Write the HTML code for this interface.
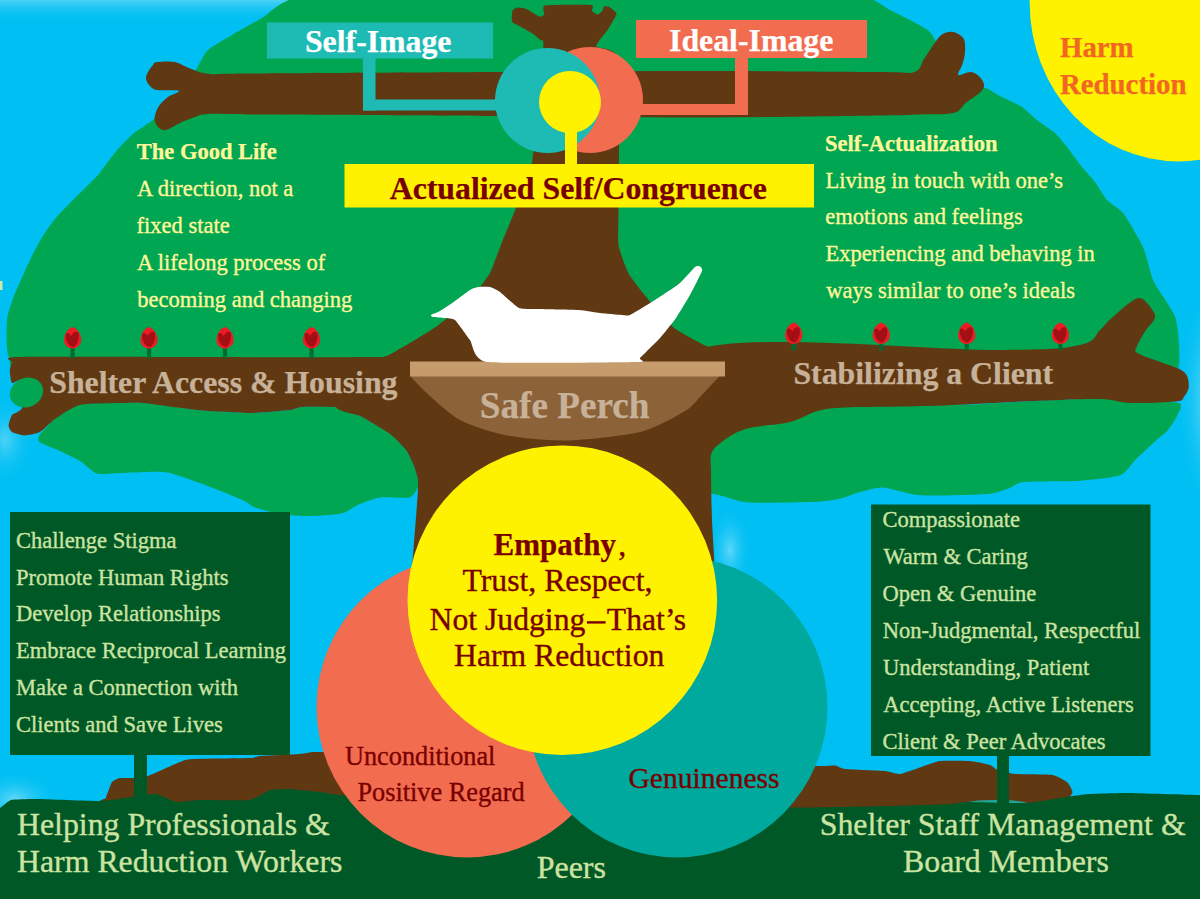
<!DOCTYPE html>
<html><head><meta charset="utf-8"><style>
html,body{margin:0;padding:0;width:1200px;height:899px;overflow:hidden;background:#00BFF3;}
svg{display:block;}
text{font-family:"Liberation Serif",serif;}
</style></head><body>
<svg width="1200" height="899" viewBox="0 0 1200 899">
<rect x="0" y="0" width="1200" height="899" fill="#00BFF3"/>
<radialGradient id="glow" cx="0.5" cy="0.5" r="0.5"><stop offset="0" stop-color="#bff0ff" stop-opacity="0.9"/><stop offset="1" stop-color="#00BFF3" stop-opacity="0"/></radialGradient>
<ellipse cx="1215" cy="400" rx="40" ry="120" fill="url(#glow)" opacity="0.8"/>
<linearGradient id="tophaze" x1="0" y1="0" x2="0" y2="1"><stop offset="0" stop-color="#7fdcfa" stop-opacity="0.6"/><stop offset="1" stop-color="#00BFF3" stop-opacity="0"/></linearGradient>
<rect x="0" y="0" width="600" height="22" fill="url(#tophaze)"/>
<ellipse cx="730" cy="550" rx="22" ry="45" fill="url(#glow)" opacity="0.55"/>
<ellipse cx="5" cy="440" rx="30" ry="45" fill="url(#glow)" opacity="0.45"/>
<ellipse cx="15" cy="800" rx="45" ry="30" fill="url(#glow)" opacity="0.6"/>
<path d="M300.0,-3.0 C318.8,-5.1 420.0,-3.0 450.0,-3.0 C480.0,-3.0 570.0,-3.0 600.0,-3.0 C630.0,-3.0 726.0,-3.0 750.0,-3.0 C774.0,-3.0 827.9,-3.2 840.0,-3.0 C852.1,-2.8 866.0,-2.3 871.0,-1.0 C876.0,0.3 885.9,7.8 890.0,10.0 C894.1,12.2 908.1,18.9 912.0,21.0 C915.9,23.1 926.6,28.9 929.0,31.0 C931.4,33.1 935.4,39.9 936.0,42.0 C936.6,44.1 936.2,50.2 935.0,52.0 C933.8,53.8 923.5,57.2 924.0,60.0 C924.5,62.8 934.0,77.2 940.0,80.0 C946.0,82.8 979.0,87.0 984.0,88.0 C989.0,89.0 988.4,89.2 990.0,90.0 C991.6,90.8 996.8,94.3 1000.0,96.0 C1003.2,97.7 1018.3,104.6 1022.0,107.0 C1025.7,109.4 1033.7,117.4 1037.0,120.0 C1040.3,122.6 1052.0,130.3 1055.0,133.0 C1058.0,135.7 1064.3,143.6 1067.0,147.0 C1069.7,150.4 1079.2,163.5 1082.0,167.0 C1084.8,170.5 1092.5,178.7 1095.0,182.0 C1097.5,185.3 1104.2,196.9 1107.0,200.0 C1109.8,203.1 1119.4,208.3 1123.0,213.0 C1126.6,217.7 1140.0,240.3 1143.0,247.0 C1146.0,253.7 1150.8,274.7 1153.0,280.0 C1155.2,285.3 1163.2,296.4 1165.4,300.0 C1167.6,303.6 1173.5,312.7 1174.8,315.8 C1176.1,318.9 1177.5,327.5 1178.0,331.4 C1178.5,335.3 1179.4,351.1 1179.4,354.8 C1179.4,358.5 1179.9,365.0 1178.0,368.0 C1176.1,371.0 1207.8,381.8 1160.0,385.0 C1112.2,388.2 776.0,398.5 700.0,400.0 C624.0,401.5 466.0,402.5 400.0,400.0 C334.0,397.5 79.1,379.3 40.0,375.0 C0.9,370.7 12.3,362.5 9.0,357.0 C5.7,351.5 6.5,326.1 7.0,320.0 C7.5,313.9 11.7,302.0 14.0,296.0 C16.3,290.0 27.4,265.5 30.0,260.0 C32.6,254.5 37.8,244.6 40.0,240.8 C42.2,237.0 49.9,225.4 52.5,222.0 C55.1,218.6 63.5,209.7 66.5,206.6 C69.5,203.5 78.9,194.1 82.0,191.0 C85.1,187.9 95.1,178.2 97.6,175.4 C100.1,172.6 105.0,165.6 107.0,163.0 C109.0,160.4 115.3,152.0 118.0,149.0 C120.7,146.0 130.0,136.3 133.5,133.4 C137.0,130.5 149.2,123.0 153.0,120.0 C156.8,117.0 168.6,106.4 172.0,103.0 C175.4,99.6 184.4,89.7 187.0,86.0 C189.6,82.3 195.9,69.6 198.0,66.0 C200.1,62.4 204.6,53.1 208.0,50.0 C211.4,46.9 226.6,38.2 232.0,35.0 C237.4,31.8 255.2,21.8 262.0,18.0 C268.8,14.2 281.2,-0.9 300.0,-3.0 Z" fill="#00A651"/>
<path d="M712.0,440.0 C716.9,435.8 731.3,424.6 742.0,421.0 C752.7,417.4 787.9,411.2 804.0,409.0 C820.1,406.8 861.8,402.5 880.0,402.0 C898.2,401.5 941.3,404.9 960.0,404.7 C978.7,404.5 1022.0,401.5 1040.0,400.7 C1058.0,399.9 1103.9,398.0 1114.7,398.0 C1125.5,398.0 1125.5,400.1 1133.0,400.7 C1140.5,401.3 1173.5,401.3 1178.7,403.0 C1183.9,404.7 1178.5,412.2 1177.3,415.3 C1176.1,418.4 1170.3,427.2 1168.0,430.0 C1165.7,432.8 1161.0,435.9 1157.3,439.3 C1153.6,442.7 1140.4,455.1 1136.0,459.3 C1131.6,463.5 1126.5,472.8 1120.0,475.3 C1113.5,477.8 1091.2,479.9 1080.0,480.7 C1068.8,481.5 1032.4,481.1 1024.0,482.0 C1015.6,482.9 1012.4,487.3 1008.0,488.7 C1003.6,490.1 997.0,493.2 986.7,494.0 C976.4,494.8 932.1,496.1 920.0,495.3 C907.9,494.5 890.5,487.8 883.3,487.5 C876.1,487.2 863.2,491.2 858.3,492.5 C853.4,493.8 846.6,497.2 841.7,498.3 C836.8,499.4 827.4,501.2 816.7,501.7 C806.0,502.2 760.7,503.1 750.0,502.5 C739.3,501.9 730.8,498.4 725.0,496.7 C719.2,495.0 702.9,492.7 700.0,488.0 C697.1,483.3 698.6,462.3 700.0,456.7 C701.4,451.1 707.1,444.2 712.0,440.0 Z" fill="#00A651"/>
<path d="M72.0,405.0 C83.2,402.2 128.4,402.4 143.0,403.0 C157.6,403.6 184.5,408.8 197.0,410.0 C209.5,411.2 239.2,413.0 250.0,413.0 C260.9,413.0 283.9,410.7 290.0,410.0 C296.1,409.3 296.6,407.4 302.0,407.0 C307.4,406.6 329.2,405.9 336.0,407.0 C342.8,408.1 353.7,412.9 360.0,416.0 C366.3,419.1 384.6,430.0 390.0,434.0 C395.4,438.0 403.2,446.3 406.0,450.0 C408.8,453.7 412.6,462.5 414.0,466.0 C415.4,469.5 417.5,477.6 418.0,480.0 C418.5,482.4 419.0,485.0 418.0,487.0 C417.0,489.0 413.9,496.2 409.5,497.4 C405.1,498.6 385.8,496.6 380.0,497.4 C374.2,498.2 364.2,502.2 360.0,504.0 C355.8,505.8 347.5,511.5 344.0,512.8 C340.5,514.1 334.6,514.6 330.0,515.0 C325.4,515.4 310.8,516.1 305.0,516.0 C299.2,515.9 285.8,515.0 280.0,514.0 C274.2,513.0 259.4,509.1 255.0,507.5 C250.6,505.9 248.3,502.6 242.5,500.0 C236.7,497.4 213.8,488.2 205.0,485.0 C196.2,481.8 175.7,474.0 167.5,472.5 C159.3,471.0 142.9,472.3 135.0,472.5 C127.1,472.7 105.0,474.2 100.0,474.0 C95.0,473.8 94.8,472.5 92.5,471.0 C90.2,469.5 83.8,463.3 80.0,461.0 C76.2,458.7 64.7,453.2 60.0,451.0 C55.3,448.8 42.5,444.2 40.0,442.5 C37.5,440.8 38.2,437.8 39.0,436.0 C39.8,434.2 43.1,430.6 47.0,427.0 C50.9,423.4 60.8,407.8 72.0,405.0 Z" fill="#00A651"/>
<path d="M517.3,7.6 C518.5,7.5 525.4,8.6 527.0,9.2 C528.6,9.8 535.6,14.6 536.8,15.2 C538.0,15.8 540.6,16.9 541.2,16.8 C541.8,16.7 544.1,15.0 544.4,14.1 C544.7,13.2 541.1,6.2 545.0,5.4 C548.9,4.6 587.1,4.5 591.0,4.9 C594.9,5.4 591.5,10.0 592.0,10.8 C592.5,11.6 596.6,14.6 597.5,14.6 C598.4,14.6 601.9,11.5 602.4,10.8 C602.9,10.1 603.4,6.8 604.0,6.5 C604.6,6.2 608.4,6.4 609.4,7.0 C610.4,7.6 616.7,12.1 616.5,14.0 C616.3,15.9 609.0,27.6 607.3,30.3 C605.6,33.0 595.5,44.1 596.4,46.6 C597.3,49.1 616.7,46.5 618.5,60.0 C620.3,73.5 618.5,192.6 618.5,208.0 C618.5,223.4 617.7,239.5 618.5,245.0 C619.3,250.5 626.3,269.3 628.6,273.6 C630.9,277.9 642.1,292.2 646.0,296.8 C649.9,301.4 668.8,324.0 675.0,328.6 C681.2,333.2 711.2,349.8 720.0,351.7 C728.8,353.6 775.0,347.1 780.0,352.0 C785.0,356.9 783.2,403.8 780.0,410.0 C776.8,416.2 747.7,423.9 742.0,427.0 C736.3,430.1 714.6,443.4 712.0,447.0 C709.4,450.6 711.0,463.9 711.0,470.0 C711.0,476.1 711.7,510.8 712.0,520.0 C712.3,529.2 714.7,560.0 715.0,580.0 C715.3,600.0 740.8,745.0 716.0,760.0 C691.2,775.0 442.8,782.8 418.0,760.0 C393.2,737.2 418.0,510.3 418.0,487.0 C418.0,463.7 418.3,481.8 418.0,480.0 C417.7,478.2 415.0,468.5 414.0,466.0 C413.0,463.5 408.0,452.7 406.0,450.0 C404.0,447.3 393.8,436.8 390.0,434.0 C386.2,431.2 364.5,418.2 360.0,416.0 C355.5,413.8 338.0,411.7 336.0,407.0 C334.0,402.3 332.1,364.2 336.0,360.0 C339.9,355.8 377.7,357.9 383.0,357.0 C388.3,356.1 395.4,351.4 400.0,348.8 C404.6,346.2 431.6,330.0 437.6,325.7 C443.6,321.4 467.7,301.1 472.0,296.8 C476.3,292.5 487.3,277.9 489.7,273.6 C492.1,269.3 498.8,250.1 501.0,244.7 C503.2,239.3 513.1,215.6 515.7,208.5 C518.3,201.4 530.2,173.5 532.5,160.0 C534.8,146.5 542.7,56.6 543.3,46.6 C543.9,36.6 540.9,41.1 540.0,40.0 C539.1,38.9 534.2,34.8 532.5,33.6 C530.8,32.4 521.2,27.0 519.5,26.0 C517.8,25.0 512.6,23.0 512.0,21.7 C511.4,20.4 512.1,12.0 512.5,10.8 C512.9,9.6 516.1,7.7 517.3,7.6 Z" fill="#603913"/>
<path d="M157.0,62.0 C160.7,61.5 169.5,60.9 175.0,62.0 C180.5,63.1 184.2,66.5 190.0,68.5 C195.8,70.5 200.0,73.2 210.0,74.0 C220.0,74.8 201.7,73.8 250.0,73.5 C298.3,73.2 425.0,72.4 500.0,72.0 C575.0,71.6 636.7,71.0 700.0,71.0 C763.3,71.0 844.3,71.8 880.0,72.0 C915.7,72.2 907.0,74.2 914.3,72.0 C921.6,69.8 920.7,63.7 924.0,59.0 C927.3,54.3 931.0,48.1 934.0,44.0 C937.0,39.9 938.8,36.5 942.0,34.5 C945.2,32.5 949.4,31.3 953.0,32.0 C956.6,32.7 961.5,35.2 963.5,38.5 C965.5,41.8 965.2,47.5 965.0,51.8 C964.8,56.0 963.6,60.1 962.5,64.0 C961.4,67.9 957.0,73.7 958.3,75.0 C959.6,76.3 967.0,71.8 970.5,72.0 C974.0,72.2 976.8,74.2 979.0,76.3 C981.2,78.4 983.8,82.1 984.0,84.8 C984.2,87.5 983.4,89.2 980.3,92.2 C977.2,95.2 970.1,99.5 965.6,103.0 C961.1,106.5 961.5,111.1 953.4,113.0 C945.2,114.9 928.9,114.1 916.7,114.5 C904.5,114.9 916.1,115.0 880.0,115.5 C843.9,116.0 763.3,117.4 700.0,117.5 C636.7,117.6 575.0,116.5 500.0,116.0 C425.0,115.5 298.7,114.8 250.0,114.5 C201.3,114.2 217.2,113.6 208.0,114.0 C198.8,114.4 199.7,115.5 195.0,117.0 C190.3,118.5 184.8,120.8 180.0,123.0 C175.2,125.2 169.7,129.3 166.0,130.0 C162.3,130.7 159.9,129.0 158.0,127.0 C156.1,125.0 154.3,121.5 154.5,118.0 C154.7,114.5 156.8,109.5 159.0,106.0 C161.2,102.5 164.7,99.5 168.0,97.0 C171.3,94.5 180.8,92.2 179.0,91.0 C177.2,89.8 161.8,90.8 157.0,90.0 C152.2,89.2 151.8,87.8 150.0,86.0 C148.2,84.2 146.3,81.3 146.0,79.0 C145.7,76.7 146.8,74.3 148.0,72.0 C149.2,69.7 151.5,66.7 153.0,65.0 C154.5,63.3 153.3,62.5 157.0,62.0 Z" fill="#603913"/>
<path d="M18.0,357.0 C36.8,356.5 163.5,357.0 200.0,357.0 C236.5,357.0 363.0,357.8 383.0,357.0 C403.0,356.2 394.3,348.7 400.0,349.0 C405.7,349.3 437.0,353.9 440.0,360.0 C443.0,366.1 440.4,405.3 430.0,410.0 C419.6,414.7 348.8,407.3 336.0,407.0 C323.2,406.7 306.6,406.7 302.0,407.0 C297.4,407.3 295.2,409.4 290.0,410.0 C284.8,410.6 259.3,413.0 250.0,413.0 C240.7,413.0 207.7,411.0 197.0,410.0 C186.3,409.0 150.7,403.7 143.0,403.0 C135.3,402.3 126.3,402.8 120.0,403.0 C113.7,403.2 86.0,403.4 79.5,405.0 C73.0,406.6 59.0,416.3 55.0,419.0 C51.0,421.7 43.0,430.4 40.0,432.0 C37.0,433.6 27.3,435.4 24.5,435.4 C21.7,435.4 13.6,433.0 12.0,432.0 C10.4,431.0 8.6,427.3 8.6,425.6 C8.6,423.9 10.7,416.8 12.0,415.0 C13.3,413.2 21.0,411.5 22.0,408.0 C23.0,404.5 23.0,382.5 22.0,380.0 C21.0,377.5 13.2,383.9 12.0,383.0 C10.8,382.1 9.8,372.7 9.8,370.6 C9.8,368.5 11.2,363.4 12.0,362.0 C12.8,360.6 -0.8,357.5 18.0,357.0 Z" fill="#603913"/>
<ellipse cx="26.5" cy="392.5" rx="17" ry="14.5" transform="rotate(-25 26.5 392.5)" fill="#00A651"/>
<path d="M700.0,349.0 C750.0,332.3 936.7,350.7 1000.0,350.0 C1063.3,349.3 1063.3,348.3 1080.0,345.0 C1096.7,341.7 1095.2,334.1 1100.0,330.0 C1104.8,325.9 1103.8,325.2 1109.0,320.5 C1114.2,315.8 1125.5,305.4 1131.0,301.8 C1136.5,298.2 1138.3,297.2 1142.0,298.7 C1145.7,300.2 1150.9,307.6 1153.0,311.0 C1155.1,314.4 1155.8,315.6 1154.5,319.0 C1153.2,322.4 1147.8,327.0 1145.0,331.4 C1142.2,335.8 1138.7,341.8 1137.4,345.4 C1136.1,349.0 1133.3,350.1 1137.4,353.0 C1141.5,355.9 1154.2,359.4 1162.0,362.6 C1169.8,365.8 1179.5,368.1 1184.0,372.0 C1188.5,375.9 1188.8,381.9 1188.8,386.0 C1188.8,390.1 1186.1,394.2 1184.0,396.8 C1181.9,399.4 1184.8,400.5 1176.0,401.5 C1167.2,402.5 1143.7,403.4 1131.0,403.0 C1118.3,402.6 1115.2,399.4 1100.0,399.0 C1084.8,398.6 1063.3,399.8 1040.0,400.7 C1016.7,401.6 983.3,403.7 960.0,404.7 C936.7,405.7 919.2,406.1 900.0,406.6 C880.8,407.1 858.8,406.8 845.0,407.5 C831.2,408.2 826.7,408.6 817.5,411.0 C808.3,413.4 802.2,418.9 790.0,422.0 C777.8,425.1 756.2,425.5 744.0,429.5 C731.8,433.5 722.5,441.4 716.7,446.0 C710.9,450.6 711.8,456.3 709.0,457.0 C706.2,457.7 701.5,468.0 700.0,450.0 C698.5,432.0 650.0,365.7 700.0,349.0 Z" fill="#603913"/>
<path d="M108.0,792.0 C108.5,790.7 111.0,783.2 112.0,782.0 C113.0,780.8 118.2,778.3 120.0,778.0 C121.8,777.7 131.7,778.2 134.0,778.0 C136.3,777.8 144.2,777.3 148.0,776.0 C151.8,774.7 176.3,763.4 180.0,762.0 C183.7,760.6 186.2,759.3 192.0,759.0 C197.8,758.7 244.3,758.2 250.0,758.0 C255.7,757.8 255.8,756.3 260.0,756.0 C264.2,755.7 295.7,754.3 300.0,754.0 C304.3,753.7 310.0,752.2 312.0,752.0 C314.0,751.8 316.7,752.3 324.0,752.0 C331.3,751.7 392.0,747.3 400.0,748.0 C408.0,748.7 418.3,755.2 420.0,760.0 C421.7,764.8 445.8,801.2 420.0,805.0 C394.2,808.8 136.2,805.6 110.0,805.0 C83.8,804.4 106.2,799.1 106.0,798.0 C105.8,796.9 107.5,793.3 108.0,792.0 Z" fill="#603913"/>
<path d="M700.0,762.0 C709.6,758.3 803.8,765.7 815.0,766.0 C826.2,766.3 832.5,765.2 835.0,765.5 C837.5,765.8 840.8,768.5 845.0,769.0 C849.2,769.5 880.4,770.6 885.0,771.0 C889.6,771.4 897.1,774.3 900.0,774.0 C902.9,773.7 916.7,768.6 920.0,767.5 C923.3,766.4 935.8,761.5 940.0,761.0 C944.2,760.5 965.8,760.7 970.0,761.0 C974.2,761.3 987.7,764.2 990.0,765.0 C992.3,765.8 995.4,769.2 997.5,770.0 C999.6,770.8 1010.4,773.6 1015.0,774.0 C1019.6,774.4 1048.1,774.3 1052.5,775.0 C1056.9,775.7 1065.8,781.0 1067.5,782.5 C1069.2,784.0 1072.7,791.0 1072.5,792.5 C1072.3,794.0 1067.7,799.9 1065.0,801.0 C1062.3,802.1 1062.9,805.2 1040.0,806.0 C1017.1,806.8 818.3,809.7 790.0,810.0 C761.7,810.3 707.5,814.0 700.0,810.0 C692.5,806.0 690.4,765.7 700.0,762.0 Z" fill="#603913"/>
<ellipse cx="996" cy="804" rx="32" ry="4" fill="#1FA597"/>
<path d="M-10.0,812.0 C-9.0,804.9 -1.4,808.8 0.0,808.0 C1.4,807.2 8.5,800.6 11.0,800.0 C13.5,799.4 31.1,798.9 37.0,799.0 C42.9,799.1 94.2,801.1 100.0,801.0 C105.8,800.9 120.3,798.5 124.0,798.0 C127.7,797.5 152.5,793.7 156.0,794.0 C159.5,794.3 173.1,801.6 176.0,802.0 C178.9,802.4 195.1,800.1 200.0,800.0 C204.9,799.9 245.3,800.7 250.0,800.0 C254.7,799.3 267.3,790.7 270.0,790.0 C272.7,789.3 286.7,788.9 290.0,789.0 C293.3,789.1 316.7,791.6 320.0,792.0 C323.3,792.4 333.3,794.7 340.0,795.0 C346.7,795.3 402.7,796.7 420.0,797.0 C437.3,797.3 575.3,799.3 600.0,800.0 C624.7,800.7 770.7,807.1 790.0,807.5 C809.3,807.9 879.2,806.2 890.0,806.0 C900.8,805.8 947.5,804.3 952.5,804.0 C957.5,803.7 960.0,802.1 965.0,802.0 C970.0,801.9 1019.8,803.4 1027.0,803.0 C1034.2,802.6 1068.3,796.6 1072.5,796.0 C1076.7,795.4 1086.4,794.2 1090.0,794.0 C1093.6,793.8 1119.7,792.9 1127.0,793.0 C1134.3,793.1 1194.1,794.9 1200.0,795.0 C1205.9,795.1 1214.0,787.0 1215.0,795.0 C1216.0,803.0 1297.0,907.0 1215.0,915.0 C1133.0,923.0 66.7,921.9 -15.0,915.0 C-96.7,908.1 -11.0,819.1 -10.0,812.0 Z" fill="#005826"/>
<rect x="134" y="750" width="13" height="52" fill="#005826"/>
<rect x="10" y="512" width="280" height="243" fill="#005826"/>
<rect x="997" y="750" width="12" height="58" fill="#005826"/>
<rect x="871" y="504.5" width="279.5" height="251.5" fill="#005826"/>
<circle cx="467" cy="707" r="150.5" fill="#F26C4F"/>
<circle cx="677" cy="707" r="150.5" fill="#00A99D"/>
<circle cx="562.3" cy="600.2" r="154.8" fill="#FFF200"/>
<path d="M411,376 L719.5,376  C718.9,376.7 717.6,378.2 715.0,381.0 C712.4,383.8 704.0,393.0 700.0,397.0 C696.0,401.0 693.0,406.3 685.0,411.0 C677.0,415.7 656.0,428.1 640.0,432.0 C624.0,435.9 583.0,440.1 565.0,440.5 C547.0,440.9 519.0,437.7 505.0,435.0 C491.0,432.3 470.0,425.2 460.0,420.0 C450.0,414.8 436.3,401.5 430.0,396.0 C423.7,390.5 415.5,381.7 413.0,379.0 C410.5,376.3 411.3,376.4 411.0,376.0 Z" fill="#8C6239"/>
<rect x="410" y="361.5" width="315" height="15" fill="#C69C6D"/>
<path d="M431.0,315.0 C431.6,314.5 438.0,312.2 440.0,311.0 C442.0,309.8 452.5,302.8 455.0,301.0 C457.5,299.2 468.1,291.2 470.0,290.0 C471.9,288.8 476.3,287.2 478.0,287.0 C479.7,286.8 488.2,286.6 490.0,287.0 C491.8,287.4 497.6,290.2 500.0,292.0 C502.4,293.8 515.7,306.6 519.0,308.0 C522.3,309.4 535.0,308.8 540.0,309.0 C545.0,309.2 574.0,309.7 579.0,310.0 C584.0,310.3 596.4,312.6 600.0,313.0 C603.6,313.4 619.5,314.8 622.0,315.0 C624.5,315.2 627.2,316.2 630.0,315.0 C632.8,313.8 650.8,302.7 655.0,300.0 C659.2,297.3 676.7,285.8 680.0,283.0 C683.3,280.2 693.3,268.4 695.0,267.0 C696.7,265.6 699.4,266.2 700.0,266.5 C700.6,266.8 702.8,268.6 702.0,271.0 C701.2,273.4 692.2,291.1 690.0,295.0 C687.8,298.9 678.5,314.4 676.0,318.0 C673.5,321.6 663.0,334.7 660.0,338.0 C657.0,341.3 641.9,356.0 640.0,358.0 C638.1,360.0 649.8,361.7 637.0,362.0 C624.2,362.3 500.9,363.8 487.0,362.0 C473.1,360.2 472.7,343.5 470.0,340.0 C467.3,336.5 457.1,321.8 455.0,320.0 C452.9,318.2 446.8,318.2 445.0,318.0 C443.2,317.8 434.2,317.2 433.0,317.0 C431.8,316.8 430.4,315.5 431.0,315.0 Z" fill="#FFFFFF"/>
<rect x="363" y="55" width="12.5" height="55.5" fill="#1DBBB3"/>
<rect x="363" y="99.5" width="150" height="11" fill="#1DBBB3"/>
<rect x="735" y="55" width="13" height="60" fill="#F26C4F"/>
<rect x="620" y="104" width="128" height="11" fill="#F26C4F"/>
<circle cx="590" cy="100" r="53" fill="#F26C4F"/>
<circle cx="547.5" cy="100.5" r="52.5" fill="#1DBBB3"/>
<rect x="565" y="125" width="12" height="42" fill="#FFF200"/>
<circle cx="570" cy="102" r="31" fill="#FFF200"/>
<rect x="267" y="22.5" width="226" height="36" fill="#1DBBB3"/>
<rect x="636" y="20" width="231" height="38" fill="#F26C4F"/>
<rect x="344.5" y="164" width="469.5" height="43.5" fill="#FFF200"/>
<ellipse cx="1178" cy="2.9" rx="148.3" ry="158.5" fill="#FFF200"/>
<rect x="70.5" y="346.0" width="4.2" height="12.5" rx="1.5" fill="#006B31"/><path d="M72.6,327 C78.6,329 81.6,336 81.19999999999999,340 C81.0,345.5 76.6,348.5 72.6,348.5 C68.6,348.5 63.99999999999999,345.5 63.99999999999999,340 C63.99999999999999,335 67.6,328 72.6,327 Z" fill="#ED1C24"/><path d="M65.6,334 Q68.6,331 71.1,336 Q74.6,330 78.1,332.5 C79.6,336 78.6,344 73.6,347 C67.6,346 65.6,340 65.6,334 Z" fill="#A30F14"/>
<rect x="146.9" y="346.0" width="4.2" height="12.5" rx="1.5" fill="#006B31"/><path d="M149,327 C155,329 158,336 157.6,340 C157.4,345.5 153,348.5 149,348.5 C145,348.5 140.4,345.5 140.4,340 C140.4,335 144,328 149,327 Z" fill="#ED1C24"/><path d="M142,334 Q145,331 147.5,336 Q151,330 154.5,332.5 C156,336 155,344 150,347 C144,346 142,340 142,334 Z" fill="#A30F14"/>
<rect x="222.9" y="346.0" width="4.2" height="12.5" rx="1.5" fill="#006B31"/><path d="M225,327 C231,329 234,336 233.6,340 C233.4,345.5 229,348.5 225,348.5 C221,348.5 216.4,345.5 216.4,340 C216.4,335 220,328 225,327 Z" fill="#ED1C24"/><path d="M218,334 Q221,331 223.5,336 Q227,330 230.5,332.5 C232,336 231,344 226,347 C220,346 218,340 218,334 Z" fill="#A30F14"/>
<rect x="309.4" y="346.0" width="4.2" height="12.5" rx="1.5" fill="#006B31"/><path d="M311.5,327 C317.5,329 320.5,336 320.1,340 C319.9,345.5 315.5,348.5 311.5,348.5 C307.5,348.5 302.9,345.5 302.9,340 C302.9,335 306.5,328 311.5,327 Z" fill="#ED1C24"/><path d="M304.5,334 Q307.5,331 310.0,336 Q313.5,330 317.0,332.5 C318.5,336 317.5,344 312.5,347 C306.5,346 304.5,340 304.5,334 Z" fill="#A30F14"/>
<rect x="791.6" y="341.5" width="4.2" height="9.0" rx="1.5" fill="#006B31"/><path d="M793.75,322.5 C799.75,324.5 802.75,331.5 802.35,335.5 C802.15,341.0 797.75,344.0 793.75,344.0 C789.75,344.0 785.15,341.0 785.15,335.5 C785.15,330.5 788.75,323.5 793.75,322.5 Z" fill="#ED1C24"/><path d="M786.75,329.5 Q789.75,326.5 792.25,331.5 Q795.75,325.5 799.25,328.0 C800.75,331.5 799.75,339.5 794.75,342.5 C788.75,341.5 786.75,335.5 786.75,329.5 Z" fill="#A30F14"/>
<rect x="879.1" y="341.5" width="4.2" height="9.0" rx="1.5" fill="#006B31"/><path d="M881.25,322.5 C887.25,324.5 890.25,331.5 889.85,335.5 C889.65,341.0 885.25,344.0 881.25,344.0 C877.25,344.0 872.65,341.0 872.65,335.5 C872.65,330.5 876.25,323.5 881.25,322.5 Z" fill="#ED1C24"/><path d="M874.25,329.5 Q877.25,326.5 879.75,331.5 Q883.25,325.5 886.75,328.0 C888.25,331.5 887.25,339.5 882.25,342.5 C876.25,341.5 874.25,335.5 874.25,329.5 Z" fill="#A30F14"/>
<rect x="964.6" y="341.5" width="4.2" height="9.0" rx="1.5" fill="#006B31"/><path d="M966.7,322.5 C972.7,324.5 975.7,331.5 975.3000000000001,335.5 C975.1,341.0 970.7,344.0 966.7,344.0 C962.7,344.0 958.1,341.0 958.1,335.5 C958.1,330.5 961.7,323.5 966.7,322.5 Z" fill="#ED1C24"/><path d="M959.7,329.5 Q962.7,326.5 965.2,331.5 Q968.7,325.5 972.2,328.0 C973.7,331.5 972.7,339.5 967.7,342.5 C961.7,341.5 959.7,335.5 959.7,329.5 Z" fill="#A30F14"/>
<rect x="1058.3" y="341.5" width="4.2" height="9.0" rx="1.5" fill="#006B31"/><path d="M1060.4,322.5 C1066.4,324.5 1069.4,331.5 1069.0,335.5 C1068.8000000000002,341.0 1064.4,344.0 1060.4,344.0 C1056.4,344.0 1051.8000000000002,341.0 1051.8000000000002,335.5 C1051.8000000000002,330.5 1055.4,323.5 1060.4,322.5 Z" fill="#ED1C24"/><path d="M1053.4,329.5 Q1056.4,326.5 1058.9,331.5 Q1062.4,325.5 1065.9,328.0 C1067.4,331.5 1066.4,339.5 1061.4,342.5 C1055.4,341.5 1053.4,335.5 1053.4,329.5 Z" fill="#A30F14"/>
<rect x="0" y="281" width="2.5" height="9" fill="#FFF799" opacity="0.8"/>
<text x="304.91" y="52.25" font-size="31.8" font-weight="bold" fill="#FFFFFF" stroke="#FFFFFF" stroke-width="0.25">Self-Image</text>
<text x="669.05" y="51.00" font-size="31.8" font-weight="bold" fill="#FFFFFF" stroke="#FFFFFF" stroke-width="0.25">Ideal-Image</text>
<text x="389.68" y="199.30" font-size="31.8" font-weight="bold" fill="#790000" stroke="#790000" stroke-width="0.25">Actualized Self/Congruence</text>
<text x="1060.02" y="57.25" font-size="28.8" font-weight="bold" fill="#F26522" stroke="#F26522" stroke-width="0.25">Harm</text>
<text x="1060.02" y="94.40" font-size="28.8" font-weight="bold" fill="#F26522" stroke="#F26522" stroke-width="0.25">Reduction</text>
<text x="136.85" y="158.50" font-size="22.5" font-weight="bold" fill="#FFF799" stroke="#FFF799" stroke-width="0.25">The Good Life</text>
<text x="137.08" y="195.50" font-size="22.5" font-weight="normal" fill="#FFF799" stroke="#FFF799" stroke-width="0.35">A direction, not a</text>
<text x="136.62" y="232.50" font-size="22.5" font-weight="normal" fill="#FFF799" stroke="#FFF799" stroke-width="0.35">fixed state</text>
<text x="137.08" y="269.50" font-size="22.5" font-weight="normal" fill="#FFF799" stroke="#FFF799" stroke-width="0.35">A lifelong process of</text>
<text x="137.30" y="306.50" font-size="22.5" font-weight="normal" fill="#FFF799" stroke="#FFF799" stroke-width="0.35">becoming and changing</text>
<text x="825.12" y="150.50" font-size="22.5" font-weight="bold" fill="#FFF799" stroke="#FFF799" stroke-width="0.25">Self-Actualization</text>
<text x="825.58" y="187.50" font-size="22.5" font-weight="normal" fill="#FFF799" stroke="#FFF799" stroke-width="0.35">Living in touch with one’s</text>
<text x="825.35" y="224.00" font-size="22.5" font-weight="normal" fill="#FFF799" stroke="#FFF799" stroke-width="0.35">emotions and feelings</text>
<text x="825.58" y="261.25" font-size="22.5" font-weight="normal" fill="#FFF799" stroke="#FFF799" stroke-width="0.35">Experiencing and behaving in</text>
<text x="826.25" y="298.00" font-size="22.5" font-weight="normal" fill="#FFF799" stroke="#FFF799" stroke-width="0.35">ways similar to one’s ideals</text>
<text x="49.21" y="393.30" font-size="31.8" font-weight="bold" fill="#C7B299" stroke="#C7B299" stroke-width="0.25">Shelter Access &amp; Housing</text>
<text x="793.41" y="383.80" font-size="31.8" font-weight="bold" fill="#C7B299" stroke="#C7B299" stroke-width="0.25">Stabilizing a Client</text>
<text x="479.84" y="417.50" font-size="37.2" font-weight="bold" fill="#C7B299" stroke="#C7B299" stroke-width="0.25">Safe Perch</text>
<text x="493.58" y="555.00" font-size="31.0" font-weight="bold" fill="#790000" stroke="#790000" stroke-width="0.25">Empathy</text>
<text x="618.23" y="555.00" font-size="31.7" font-weight="normal" fill="#790000" stroke="#790000" stroke-width="0.35">,</text>
<text x="462.57" y="591.20" font-size="31.7" font-weight="normal" fill="#790000" stroke="#790000" stroke-width="0.35">Trust, Respect,</text>
<text x="429.55" y="629.70" font-size="31.7" font-weight="normal" fill="#790000" stroke="#790000" stroke-width="0.35">Not Judging</text>
<rect x="586.9" y="621.2" width="18.7" height="2.4" fill="#790000"/>
<text x="606.87" y="629.70" font-size="31.7" font-weight="normal" fill="#790000" stroke="#790000" stroke-width="0.35">That’s</text>
<text x="454.05" y="665.80" font-size="31.7" font-weight="normal" fill="#790000" stroke="#790000" stroke-width="0.35">Harm Reduction</text>
<text x="344.97" y="764.50" font-size="26.3" font-weight="normal" fill="#790000" stroke="#790000" stroke-width="0.35">Unconditional</text>
<text x="357.41" y="801.20" font-size="26.3" font-weight="normal" fill="#790000" stroke="#790000" stroke-width="0.35">Positive Regard</text>
<text x="628.42" y="788.00" font-size="29.6" font-weight="normal" fill="#790000" stroke="#790000" stroke-width="0.35">Genuineness</text>
<text x="536.64" y="878.00" font-size="32" font-weight="normal" fill="#CDE3A2" stroke="#CDE3A2" stroke-width="0.35">Peers</text>
<text x="15.90" y="547.80" font-size="22.5" font-weight="normal" fill="#CDE3A2" stroke="#CDE3A2" stroke-width="0.35">Challenge Stigma</text>
<text x="16.12" y="584.64" font-size="22.5" font-weight="normal" fill="#CDE3A2" stroke="#CDE3A2" stroke-width="0.35">Promote Human Rights</text>
<text x="16.12" y="621.48" font-size="22.5" font-weight="normal" fill="#CDE3A2" stroke="#CDE3A2" stroke-width="0.35">Develop Relationships</text>
<text x="16.12" y="658.32" font-size="22.5" font-weight="normal" fill="#CDE3A2" stroke="#CDE3A2" stroke-width="0.35">Embrace Reciprocal Learning</text>
<text x="16.12" y="695.16" font-size="22.5" font-weight="normal" fill="#CDE3A2" stroke="#CDE3A2" stroke-width="0.35">Make a Connection with</text>
<text x="15.90" y="732.00" font-size="22.5" font-weight="normal" fill="#CDE3A2" stroke="#CDE3A2" stroke-width="0.35">Clients and Save Lives</text>
<text x="882.50" y="526.50" font-size="22.5" font-weight="normal" fill="#CDE3A2" stroke="#CDE3A2" stroke-width="0.35">Compassionate</text>
<text x="883.40" y="563.53" font-size="22.5" font-weight="normal" fill="#CDE3A2" stroke="#CDE3A2" stroke-width="0.35">Warm &amp; Caring</text>
<text x="882.50" y="600.56" font-size="22.5" font-weight="normal" fill="#CDE3A2" stroke="#CDE3A2" stroke-width="0.35">Open &amp; Genuine</text>
<text x="882.73" y="637.59" font-size="22.5" font-weight="normal" fill="#CDE3A2" stroke="#CDE3A2" stroke-width="0.35">Non-Judgmental, Respectful</text>
<text x="882.95" y="674.62" font-size="22.5" font-weight="normal" fill="#CDE3A2" stroke="#CDE3A2" stroke-width="0.35">Understanding, Patient</text>
<text x="883.17" y="711.65" font-size="22.5" font-weight="normal" fill="#CDE3A2" stroke="#CDE3A2" stroke-width="0.35">Accepting, Active Listeners</text>
<text x="882.50" y="748.68" font-size="22.5" font-weight="normal" fill="#CDE3A2" stroke="#CDE3A2" stroke-width="0.35">Client &amp; Peer Advocates</text>
<text x="17.05" y="835.40" font-size="31.8" font-weight="normal" fill="#CDE3A2" stroke="#CDE3A2" stroke-width="0.35">Helping Professionals &amp;</text>
<text x="17.05" y="872.00" font-size="31.8" font-weight="normal" fill="#CDE3A2" stroke="#CDE3A2" stroke-width="0.35">Harm Reduction Workers</text>
<text x="819.77" y="835.00" font-size="31.8" font-weight="normal" fill="#CDE3A2" stroke="#CDE3A2" stroke-width="0.35">Shelter Staff Management &amp;</text>
<text x="903.05" y="871.50" font-size="31.8" font-weight="normal" fill="#CDE3A2" stroke="#CDE3A2" stroke-width="0.35">Board Members</text>
</svg>
</body></html>
